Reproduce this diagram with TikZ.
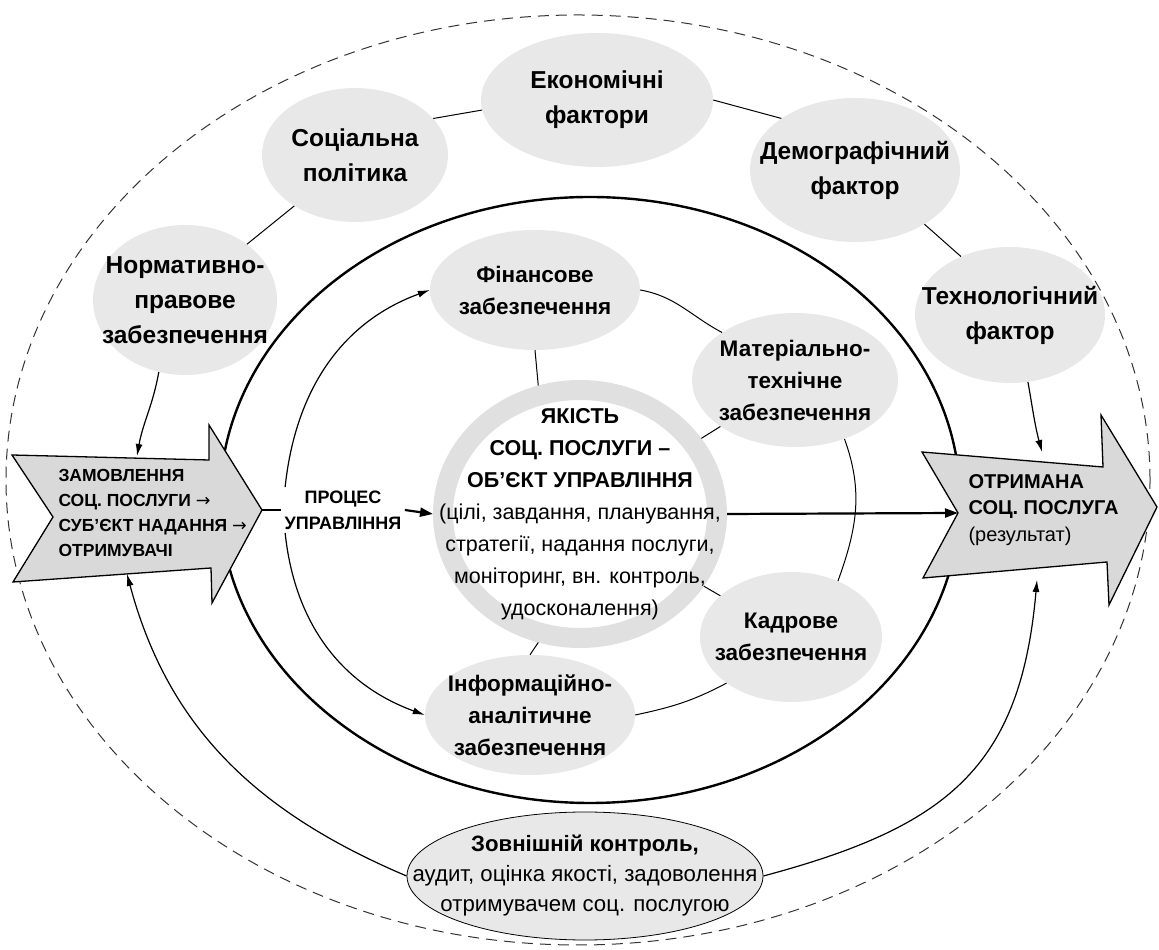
\documentclass[tikz,border=0pt]{standalone}
\usepackage{fontspec}
\setmainfont{Liberation Sans}
\newfontfamily\arrowfont{DejaVu Sans}
\usetikzlibrary{shapes.geometric,arrows.meta}

\definecolor{factorgray}{HTML}{E8E8E8}
\definecolor{arrowgray}{HTML}{D9D9D9}
\definecolor{ringgray}{HTML}{E0E0E0}

\newcommand{\toarrow}{{\arrowfont\mdseries →}}

\tikzset{
  factor/.style={ellipse, fill=factorgray, inner sep=0pt},
  factortext/.style={align=center, font=\bfseries\fontsize{24.5}{35}\selectfont},
  supporttext/.style={align=center, font=\bfseries\fontsize{22.5}{32}\selectfont},
  outline/.style={dash pattern=on 11pt off 7pt, line width=1pt, black!80},
  contour/.style={line width=2.4pt},
  link/.style={line width=1pt},
  feed/.style={line width=1.2pt, -{Latex[length=12pt,width=7pt]}},
  flow/.style={line width=2.2pt, -{Triangle[length=13pt,width=9pt]}},
  blockarrow/.style={draw, line width=1.3pt, fill=arrowgray, line join=miter},
}

\begin{document}
\begin{tikzpicture}[x=1pt, y=1pt]
  \useasboundingbox (0,0) rectangle (1159,950);

  % boundary and main contour
  \draw[outline] (578,470) ellipse[x radius=572, y radius=465];
  \draw[contour] (590,450) ellipse[x radius=370, y radius=303];

  % external factors
  \node[factor, minimum width=232pt, minimum height=134pt] (econ) at (597,850) {};
  \node[factor, minimum width=186pt, minimum height=134pt] (soc) at (355,795) {};
  \node[factor, minimum width=210pt, minimum height=144pt] (demo) at (855,780) {};
  \node[factor, minimum width=184pt, minimum height=150pt] (norm) at (185,650) {};
  \node[factor, minimum width=190pt, minimum height=136pt] (tech) at (1010,635) {};
  \node[factortext] (econtext) at (econ) {Економічні\\фактори};
  \node[factortext] (soctext) at (soc) {Соціальна\\політика};
  \node[factortext] (demotext) at (demo) {Демографічний\\фактор};
  \node[factortext] (normtext) at (norm) {Нормативно-\\правове\\забезпечення};
  \node[factortext] (techtext) at (tech) {Технологічний\\фактор};

  % support
  \node[factor, minimum width=210pt, minimum height=120pt] (fin) at (535,660) {};
  \node[factor, minimum width=206pt, minimum height=134pt] (mat) at (795,570) {};
  \node[factor, minimum width=182pt, minimum height=130pt] (kadr) at (791,313) {};
  \node[factor, minimum width=210pt, minimum height=120pt] (inf) at (530,235) {};
  \node[supporttext] (fintext) at (fin) {Фінансове\\забезпечення};
  \node[supporttext] (mattext) at (mat) {Матеріально-\\технічне\\забезпечення};
  \node[supporttext] (kadrtext) at (kadr) {Кадрове\\забезпечення};
  \node[supporttext] (inftext) at (inf) {Інформаційно-\\аналітичне\\забезпечення};

  % object of management
  \node[ellipse, draw=ringgray, line width=20pt, fill=white, inner sep=0pt,
        minimum width=274pt, minimum height=248pt] (core) at (580,436) {};
  \node[align=center, font=\fontsize{21.5}{32}\selectfont] (coretext) at (core) {%
    \textbf{ЯКІСТЬ}\\\textbf{СОЦ. ПОСЛУГИ –}\\\textbf{ОБ'ЄКТ УПРАВЛІННЯ}\\
    (цілі, завдання, планування,\\стратегії, надання послуги,\\
    моніторинг, вн. контроль,\\удосконалення)};

  % external control
  \node[factor, draw, line width=0.8pt, minimum width=356pt, minimum height=128pt] (ext) at (585,74) {};
  \node[align=center, font=\fontsize{22.2}{30}\selectfont] (exttext) at (ext) {%
    \textbf{Зовнішній контроль,}\\аудит, оцінка якості, задоволення\\отримувачем соц. послугою};

  % input and output
  \draw[blockarrow] (12,495) -- (209,490) -- (209,525) -- (262,440) -- (212,347)
    -- (211,382) -- (13,368) -- (53,433) -- cycle;
  \draw[blockarrow] (922,498) -- (1103,483) -- (1101,535) -- (1157,443) -- (1109,345)
    -- (1107,388) -- (923,372) -- (958,437) -- cycle;
  \node[anchor=west, align=left, font=\bfseries\fontsize{17.5}{25}\selectfont] (larr) at (55,437)
    {ЗАМОВЛЕННЯ\\СОЦ. ПОСЛУГИ \toarrow\\СУБ'ЄКТ НАДАННЯ \toarrow\\ОТРИМУВАЧІ};
  \node[anchor=west, align=left, font=\fontsize{20}{26.5}\selectfont] (rarr) at (965,440)
    {\textbf{ОТРИМАНА}\\\textbf{СОЦ. ПОСЛУГА}\\(результат)};
  \coordinate (ltip) at (262,440);
  \coordinate (rnotch) at (958,437);
  \coordinate (lin) at (137,494);
  \coordinate (lout) at (127,376);
  \coordinate (rin) at (1042,498);
  \coordinate (rout) at (1037,370);

  \node[align=center, font=\bfseries\fontsize{18}{26}\selectfont] (proc) at (343,440)
    {ПРОЦЕС\\УПРАВЛІННЯ};

  % links between factors
  \draw[link] (soc.25) -- (econ.185);
  \draw[link] (econ.0) -- (demo.145);
  \draw[link] (norm.42) -- (soc.220);
  \draw[link] (demo.322) -- (tech.130);

  % support ring
  \draw[link] (fin.east) to[out=-10, in=152] (mat.north west);
  \draw[link] (mat.-50) to[out=-70, in=70] (kadr.50);
  \draw[link] (kadr.south west) to[out=208, in=12] (inf.east);
  \draw[link] (fin.south) -- (core.108);
  \draw[link] (core) -- (mat);
  \draw[link] (core) -- (kadr);
  \draw[link] (core.252) -- (inf.north);
  \draw[feed] ([xshift=4pt]proc.north west) to[out=84, in=200] (fin.west);
  \draw[feed] ([xshift=4pt]proc.south west) to[out=-84, in=160] (inf.west);

  % main flow
  \draw[contour] (ltip) -- (proc.west);
  \draw[flow] (proc.east) -- (core.west);
  \draw[flow] (core.east) -- (rnotch);

  % influences and feedback
  \draw[feed] (norm.250) to[out=-100, in=80] (lin);
  \draw[feed] (tech.285) to[out=-80, in=105] (rin);
  \draw[feed] (ext.west) to[out=157, in=-75] (lout);
  \draw[feed] (ext.east) to[out=15, in=-95, looseness=1.2] (rout);
\end{tikzpicture}
\end{document}
